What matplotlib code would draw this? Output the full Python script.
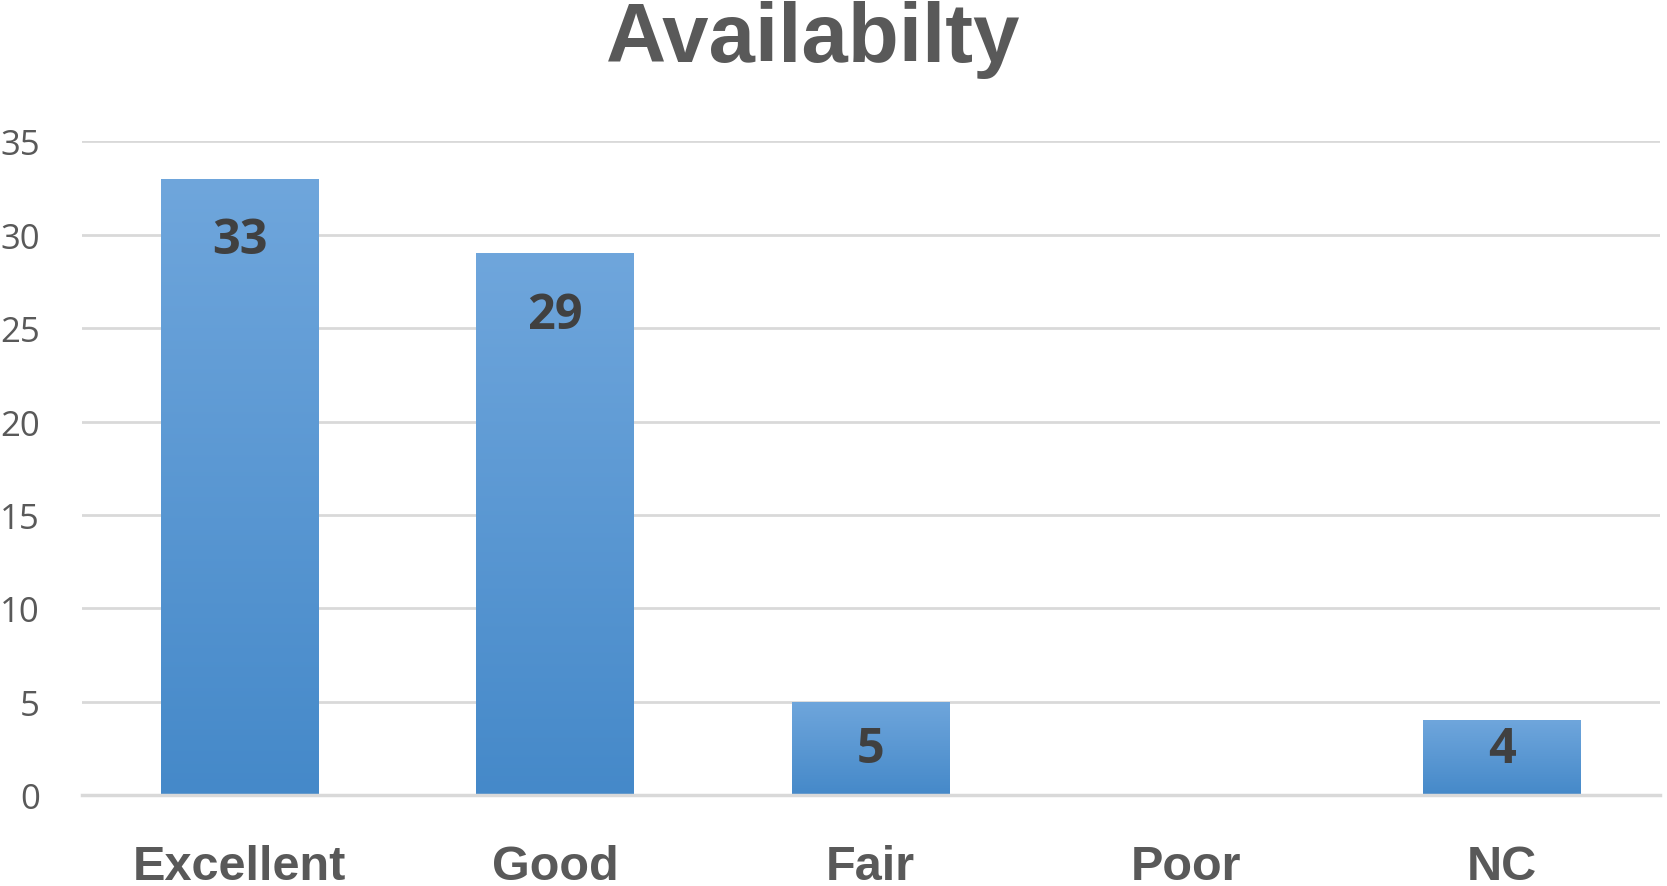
import matplotlib
matplotlib.use("Agg")
import matplotlib.pyplot as plt
import numpy as np
from matplotlib.colors import LinearSegmentedColormap

categories = ["Excellent", "Good", "Fair", "Poor", "NC"]
counts = [33, 29, 5, 0, 4]
y_ticks = [0, 5, 10, 15, 20, 25, 30, 35]
title = "Availabilty"

grey = "#595959"
grid_grey = "#d9d9d9"
bar_cmap = LinearSegmentedColormap.from_list("bar", ["#4589c9", "#6fa6dc"])

fig = plt.figure(figsize=(16.67, 8.87), dpi=100)
ax = fig.add_axes([0.049, 0.1025, 0.9466, 0.737])

x = np.arange(len(categories))
bars = ax.bar(x, counts, width=0.5, color="#5b9bd5", zorder=2)

# vertical gradient clipped to each bar
for b in bars:
    h = b.get_height()
    if h <= 0:
        continue
    grad = np.linspace(0, 1, 256).reshape(-1, 1)
    x0 = b.get_x()
    im = ax.imshow(grad, cmap=bar_cmap, origin="lower", aspect="auto",
                   extent=[x0, x0 + b.get_width(), 0, h], zorder=3)
    im.set_clip_path(b)

# value labels near the top of each bar
for xi, v in zip(x, counts):
    if v <= 0:
        continue
    ypos = max(v - 3.32, 2.45)
    ax.text(xi, ypos, str(v), ha="center", va="center", fontsize=35,
            fontweight="bold", family="Open Sans", color="#404040", zorder=4)

ax.set_xlim(-0.5, len(categories) - 0.5)
ax.set_ylim(0, 35)
ax.set_yticks(y_ticks)
ax.set_yticklabels([str(t) for t in y_ticks], fontsize=25, family="Open Sans", color=grey)
ax.set_xticks(x)
ax.set_xticklabels(categories, fontsize=35, fontweight="bold",
                   family="Liberation Sans", color=grey)
ax.tick_params(axis="y", length=0, pad=30)
ax.tick_params(axis="x", length=0, pad=35)

ax.yaxis.grid(True, color=grid_grey, linewidth=2.0, zorder=0)
ax.set_axisbelow(True)
for s in ["top", "right", "left"]:
    ax.spines[s].set_visible(False)
ax.spines["bottom"].set_color(grid_grey)
ax.spines["bottom"].set_linewidth(2.5)
ax.spines["bottom"].set_zorder(5)

fig.text(0.488, 0.93, title, ha="center", va="baseline", fontsize=60,
         fontweight="bold", family="Liberation Sans", color=grey)

fig.savefig("out.png", dpi=100)
